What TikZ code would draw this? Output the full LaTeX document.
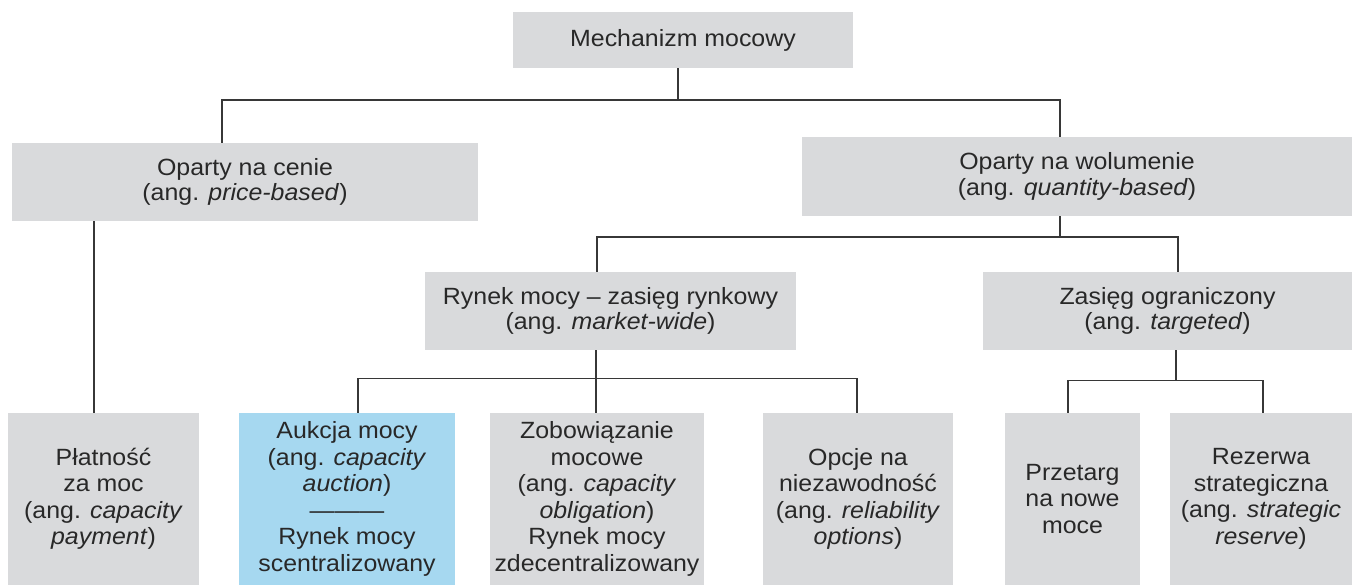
\documentclass[tikz,border=0pt]{standalone}
\usepackage{fontspec}
\setmainfont{Liberation Sans}[FakeStretch=1.06]
\definecolor{boxgray}{RGB}{217,218,220}
\definecolor{boxblue}{RGB}{166,216,240}
\definecolor{txt}{RGB}{40,40,40}
\definecolor{linec}{RGB}{55,55,55}
\tikzset{
  box/.style={rectangle, fill=boxgray, inner sep=0pt, align=center, text=txt,
    font=\fontsize{23.5}{25.5}\selectfont},
  bluebox/.style={box, fill=boxblue},
  conn/.style={draw=linec, line width=1.4pt},
}
\begin{document}
\begin{tikzpicture}[x=1pt,y=1pt]
\useasboundingbox[fill=white] (0,0) rectangle (1352,-585);
% level 1
\node[box, minimum width=340, minimum height=56] (root) at (683,-40) {Mechanizm mocowy};
% level 2
\node[box, minimum width=466, minimum height=78] (price) at (245,-182)
  {Oparty na cenie\\(ang. \textit{price-based})};
\node[box, minimum width=550, minimum height=79] (volume) at (1077,-176.5)
  {Oparty na wolumenie\\(ang. \textit{quantity-based})};
% level 3
\node[box, minimum width=371, minimum height=78] (rynek) at (610.5,-311)
  {Rynek mocy -- zasięg rynkowy\\(ang. \textit{market-wide})};
\node[box, minimum width=369, minimum height=78] (zasieg) at (1167.5,-311)
  {Zasięg ograniczony\\(ang. \textit{targeted})};
% level 4
\tikzset{leaf/.style={minimum height=172, font=\fontsize{23.5}{26.5}\selectfont}}
\node[box, leaf, minimum width=191] (platnosc) at (103.5,-499)
  {Płatność\\za moc\\(ang. \textit{capacity}\\\textit{payment})};
\node[bluebox, leaf, minimum width=216] (aukcja) at (347,-499)
  {Aukcja mocy\\(ang. \textit{capacity}\\\textit{auction})\\———\\Rynek mocy\\scentralizowany};
\node[box, leaf, minimum width=214] (zobow) at (597,-499)
  {Zobowiązanie\\mocowe\\(ang. \textit{capacity}\\\textit{obligation})\\Rynek mocy\\zdecentralizowany};
\node[box, leaf, minimum width=190] (opcje) at (858,-499)
  {Opcje na\\niezawodność\\(ang. \textit{reliability}\\\textit{options})};
\node[box, leaf, minimum width=135] (przetarg) at (1072.5,-499)
  {Przetarg\\na nowe\\moce};
\node[box, leaf, minimum width=182] (rezerwa) at (1261,-499)
  {Rezerwa\\strategiczna\\(ang. \textit{strategic}\\\textit{reserve})};
% connectors
\draw[conn] ([xshift=-5pt]root.south) -- ++(0,-32) coordinate (b1);
\draw[conn] ([xshift=-23pt]price.north) |- (b1) -| ([xshift=-17pt]volume.north);
\draw[conn] ([xshift=-151pt]price.south) -- ([xshift=-9.5pt]platnosc.north);
\draw[conn] ([xshift=-17pt]volume.south) -- ++(0,-21) coordinate (b2);
\draw[conn] ([xshift=-13.5pt]rynek.north) |- (b2) -| ([xshift=10.5pt]zasieg.north);
\draw[conn] ([xshift=-14.5pt]rynek.south) -- ++(0,-28) coordinate (b3);
\draw[conn] ([xshift=11pt]aukcja.north) |- (b3) -| ([xshift=-1pt]opcje.north);
\draw[conn] (b3) -- ([xshift=-1pt]zobow.north);
\draw[conn] ([xshift=8.5pt]zasieg.south) -- ++(0,-30) coordinate (b4);
\draw[conn] ([xshift=-4.5pt]przetarg.north) |- (b4) -| ([xshift=2pt]rezerwa.north);
\end{tikzpicture}
\end{document}
